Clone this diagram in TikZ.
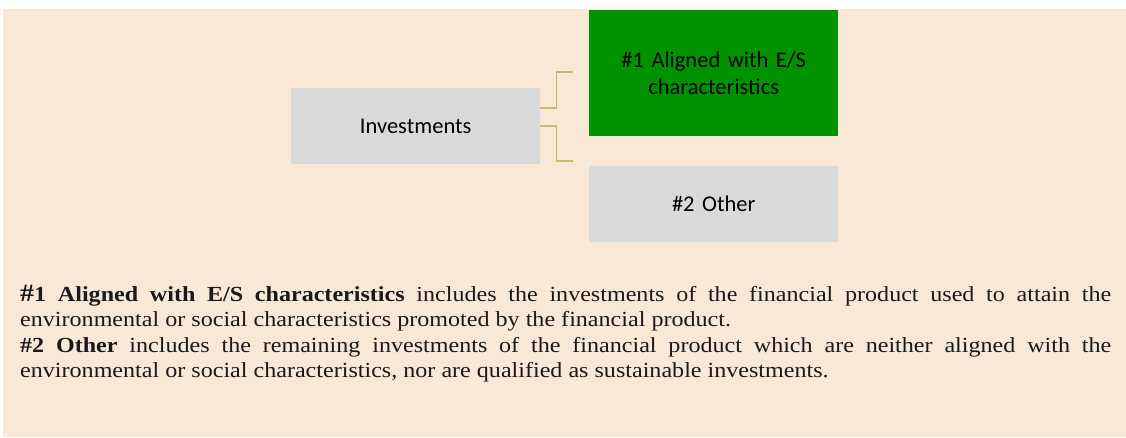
\documentclass[tikz,border=0pt]{standalone}
\usepackage{fontspec}
\setmainfont[FakeStretch=1.12]{Liberation Serif}
\newfontfamily\boxfont{Carlito}
\setlength{\parindent}{0pt}
\definecolor{bg}{RGB}{250,232,215}
\definecolor{boxgray}{RGB}{217,217,217}
\definecolor{boxgreen}{RGB}{0,146,0}
\definecolor{connc}{RGB}{200,186,106}
\definecolor{txt}{RGB}{25,25,25}
\tikzset{
  graybox/.style={fill=boxgray, draw=none, anchor=north west, inner sep=2pt, align=center,
    text width=240pt, font=\boxfont\fontsize{22.5}{26.5}\selectfont, text=black},
  greenbox/.style={graybox, fill=boxgreen},
  conn/.style={draw=connc, line width=1.6pt},
  desctext/.style={anchor=north west, inner sep=0pt, text width=1091pt, align=justify, text=txt,
    font=\fontsize{21.5}{25.3}\selectfont},
}
\begin{document}
\begin{tikzpicture}[x=1pt,y=-1pt]
\useasboundingbox (0,0) rectangle (1126,437);
\fill[white] (0,0) rectangle (1126,437);
\fill[bg] (3,9) rectangle (1126,437);
\node[graybox, minimum width=249pt, minimum height=76pt] (inv) at (291,88) {Investments};
\node[greenbox, minimum width=249pt, minimum height=126pt] (al) at (589,10) {\#1 Aligned with E/S\\characteristics};
\node[graybox, minimum width=249pt, minimum height=76pt] (oth) at (589,166) {\#2 Other};
\coordinate (t1) at (573,72);
\coordinate (t2) at (573,161);
\draw[conn] ([yshift=18pt]inv.east) -- ++(16,0) |- (t1);
\draw[conn] (inv.east) -- ++(16,0) |- (t2);
\node[desctext] (desc) at (20,285)
{\parindent=0pt \tolerance=10000 \hbadness=10000
{\bfseries{\fontsize{25}{25}\selectfont\#}1 Aligned with E/S characteristics} includes the investments of the financial product used to attain the\linebreak environmental or social characteristics promoted by the financial product.\par
{\bfseries \#2 Other} includes the remaining investments of the financial product which are neither aligned with the\linebreak environmental or social characteristics, nor are qualified as sustainable investments.};
\end{tikzpicture}
\end{document}
